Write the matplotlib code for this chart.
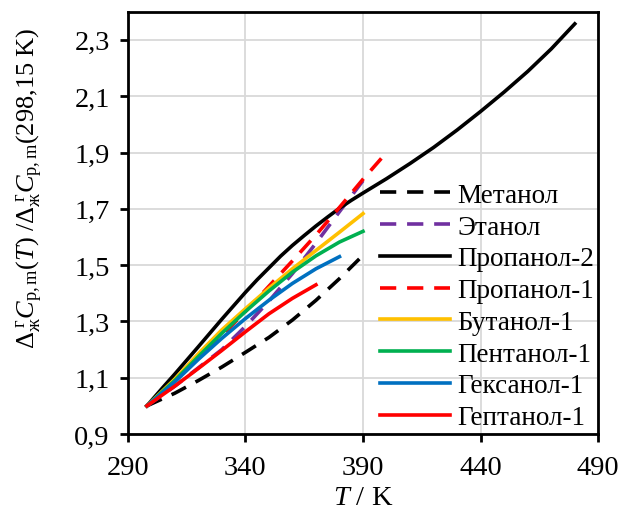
import numpy as np
import matplotlib
matplotlib.use('Agg')
from matplotlib import pyplot as plt
from matplotlib.ticker import FuncFormatter

plt.rcParams['font.family'] = ['Liberation Serif', 'DejaVu Serif']
plt.rcParams['mathtext.fontset'] = 'custom'
plt.rcParams['mathtext.rm'] = 'Liberation Serif'
plt.rcParams['mathtext.it'] = 'Liberation Serif:italic'
plt.rcParams['mathtext.bf'] = 'Liberation Serif:bold'

# data
T_met = [298.15, 310, 320, 330, 340, 350, 360, 370, 380, 390]
y_met = [1.0, 1.045, 1.09, 1.138, 1.19, 1.243, 1.305, 1.375, 1.452, 1.535]

T_et = [298.15, 310, 320, 330, 340, 350, 360, 370, 380, 390]
y_et = [1.0, 1.07, 1.135, 1.2, 1.282, 1.372, 1.47, 1.578, 1.69, 1.80]

T_pr2 = [298.15, 305, 310, 320, 330, 340, 345, 350, 355, 360, 365, 370, 375, 380, 385, 390,
         400, 410, 420, 430, 440, 450, 460, 470, 480]
y_pr2 = [1.0, 1.066, 1.113, 1.21, 1.308, 1.403, 1.448, 1.49, 1.532, 1.57, 1.605, 1.639, 1.671, 1.702, 1.73, 1.756,
         1.807, 1.861, 1.918, 1.98, 2.046, 2.115, 2.188, 2.268, 2.357]

T_pr1 = [298.15, 310, 320, 330, 340, 350, 360, 370, 380, 390, 400]
y_pr1 = [1.0, 1.09, 1.17, 1.25, 1.335, 1.425, 1.515, 1.607, 1.705, 1.805, 1.90]

T_but = [298.15, 310, 320, 330, 340, 350, 360, 370, 380, 390]
y_but = [1.0, 1.095, 1.185, 1.27, 1.345, 1.418, 1.487, 1.552, 1.617, 1.683]

T_pent = [298.15, 310, 320, 330, 340, 350, 360, 370, 380, 390]
y_pent = [1.0, 1.09, 1.175, 1.258, 1.335, 1.408, 1.475, 1.533, 1.582, 1.62]

T_hex = [298.15, 310, 320, 330, 340, 350, 360, 370, 380]
y_hex = [1.0, 1.085, 1.165, 1.24, 1.31, 1.375, 1.435, 1.487, 1.53]

T_hept = [298.15, 310, 320, 330, 340, 350, 360, 370]
y_hept = [1.0, 1.07, 1.133, 1.197, 1.263, 1.327, 1.382, 1.43]

labels = ['Метанол', 'Этанол', 'Пропанол-2', 'Пропанол-1',
          'Бутанол-1', 'Пентанол-1', 'Гексанол-1', 'Гептанол-1']

fig = plt.figure(figsize=(6.2, 5.1), dpi=100)
ax = fig.add_axes([0.206, 0.147, 0.759, 0.828])

lw = 2.6
dash = (4.5, 3.0)
ax.plot(T_met, y_met, color='black', lw=lw, dashes=dash, label=labels[0])
ax.plot(T_et, y_et, color='#7030A0', lw=lw, dashes=dash, label=labels[1])
ax.plot(T_pr2, y_pr2, color='black', lw=lw, label=labels[2])
ax.plot(T_pr1, y_pr1, color='#FF0000', lw=lw, dashes=dash, label=labels[3])
ax.plot(T_but, y_but, color='#FFC000', lw=lw, label=labels[4])
ax.plot(T_pent, y_pent, color='#00B050', lw=lw, label=labels[5])
ax.plot(T_hex, y_hex, color='#0070C0', lw=lw, label=labels[6])
ax.plot(T_hept, y_hept, color='#FF0000', lw=lw, label=labels[7])

ax.set_xlim(290, 490)
ax.set_ylim(0.9, 2.4)
ax.set_xticks(np.arange(290, 491, 50))
ax.set_yticks(np.arange(0.9, 2.31, 0.2))
ax.yaxis.set_major_formatter(FuncFormatter(lambda v, p: ('%.1f' % v).replace('.', ',')))

for s in ax.spines.values():
    s.set_linewidth(2)
ax.tick_params(direction='out', length=6, width=2, labelsize=20.5)
ax.tick_params(axis='x', pad=9)
ax.tick_params(axis='y', pad=7)
ax.grid(True, color='#d9d9d9', linewidth=1.3)
ax.set_axisbelow(True)

ax.set_xlabel('$T$ / K', fontsize=20.5, labelpad=4)
ax.set_ylabel(r'$\Delta_{\mathrm{ж}}^{\ \mathrm{г}}C_{\mathrm{p,m}}(T)\ /\Delta_{\mathrm{ж}}^{\ \mathrm{г}}C_{\mathrm{p,m}}(298{,}15\ \mathrm{K})$',
              fontsize=19)
ax.yaxis.set_label_coords(-0.175, 0.585)

ax.legend(loc='upper left', bbox_to_anchor=(0.536, 0.595), frameon=False,
          fontsize=19.5, handlelength=2.6, handletextpad=0.25, labelspacing=0.25,
          borderpad=0, borderaxespad=0)

plt.savefig('out.png', dpi=100)
